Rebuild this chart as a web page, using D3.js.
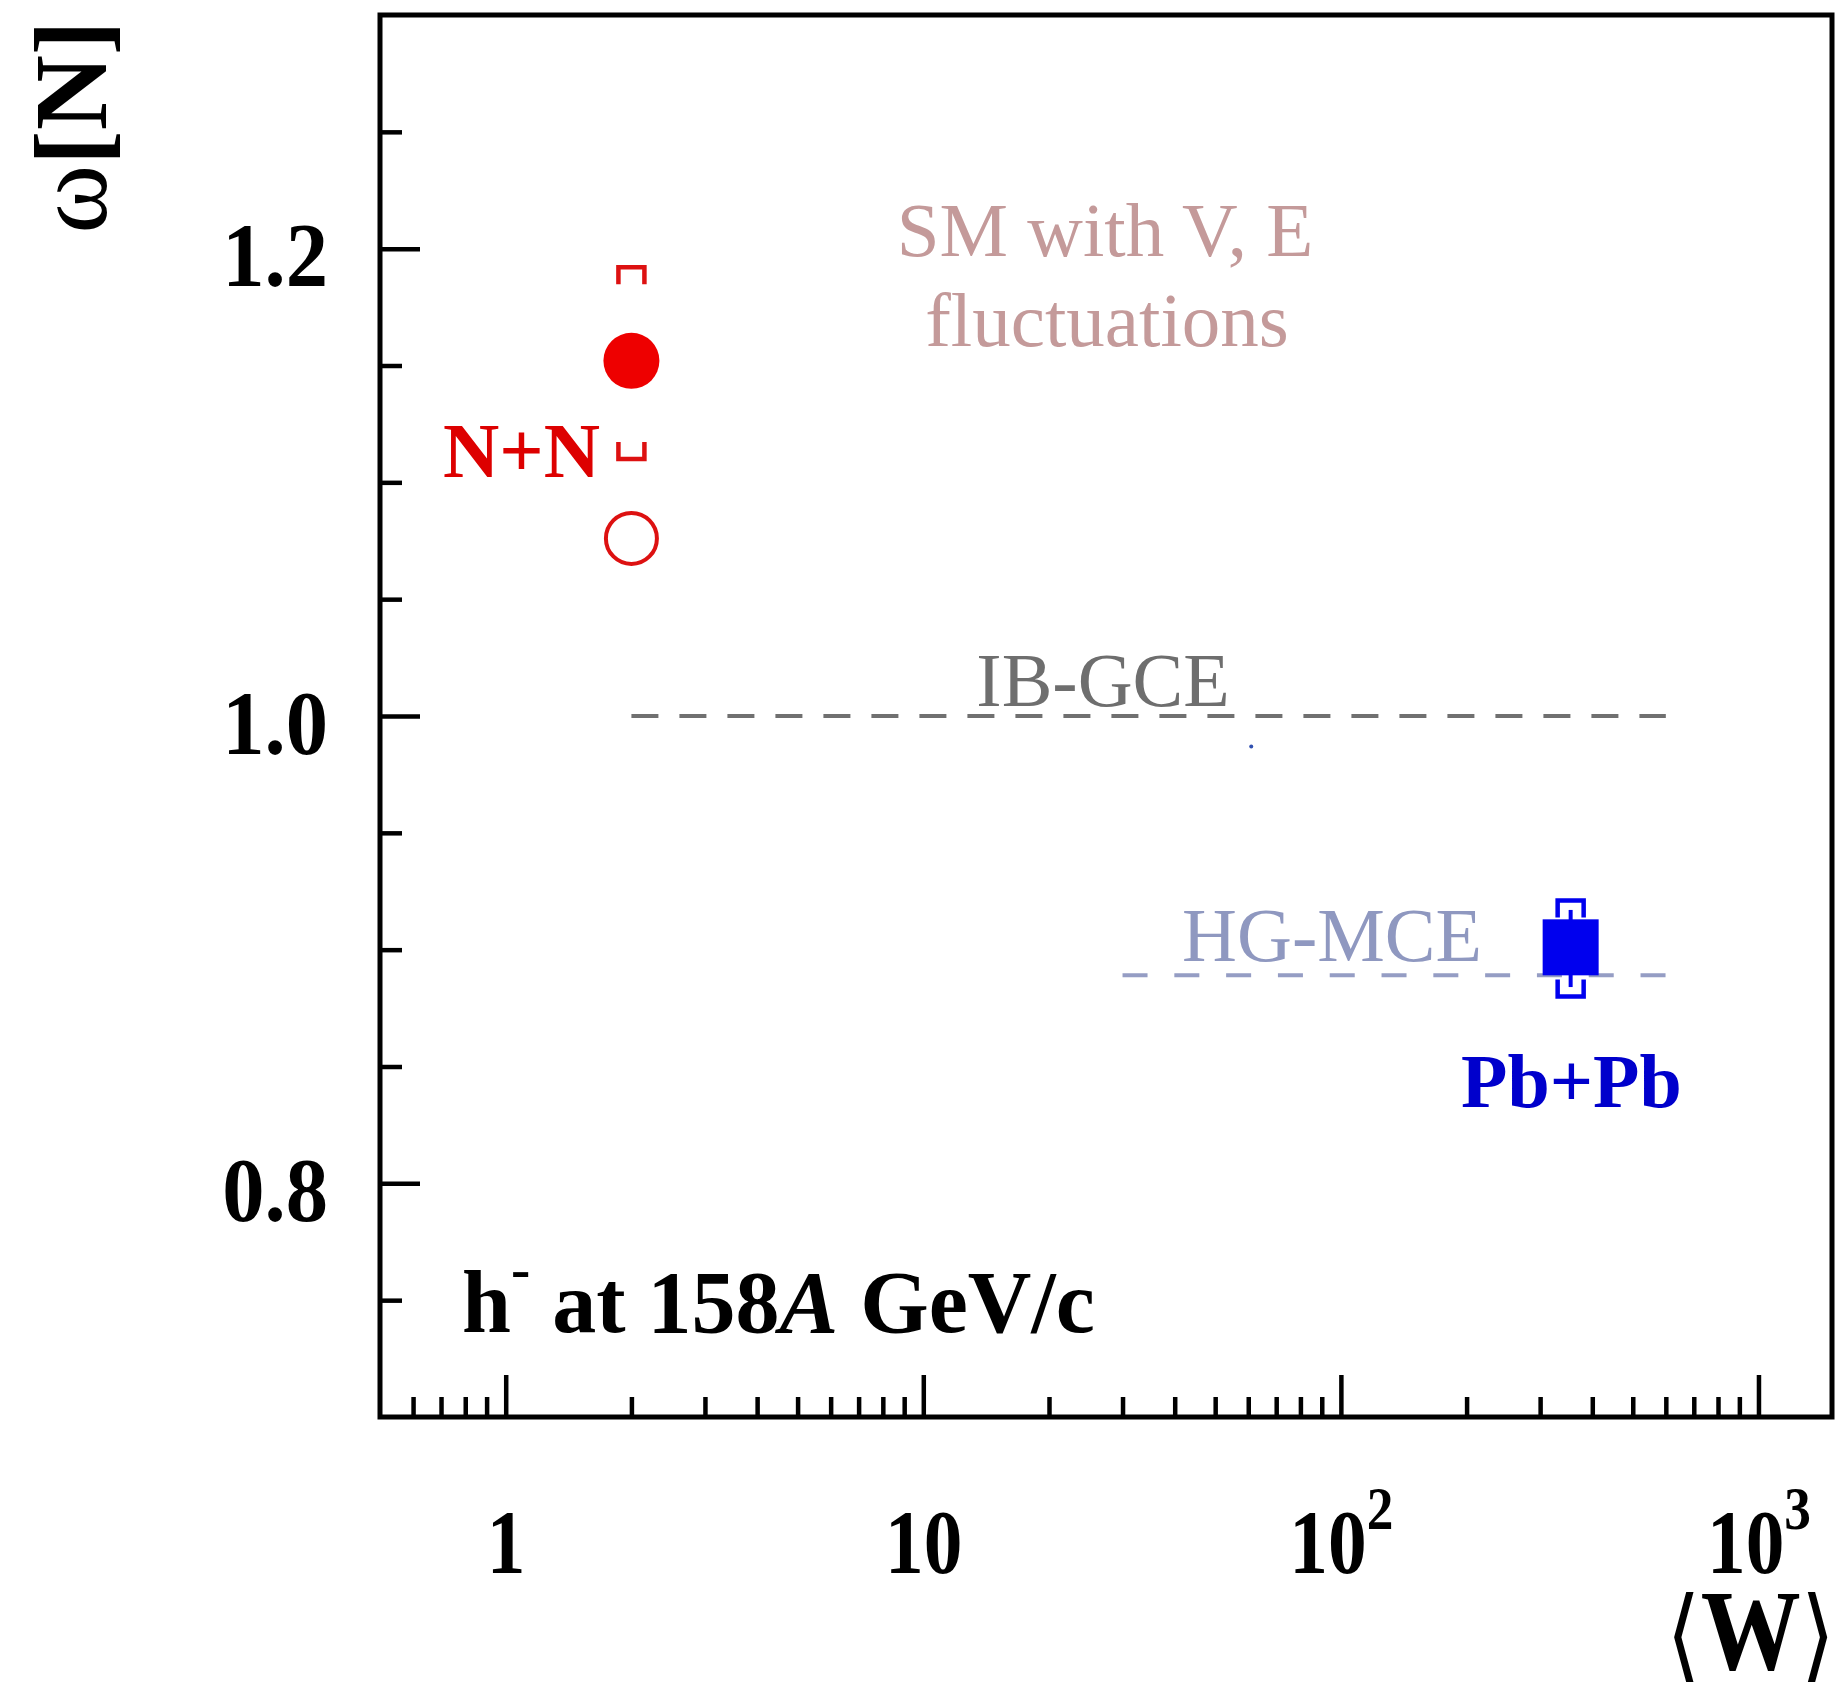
<!DOCTYPE html>
<html>
<head>
<meta charset="utf-8">
<script src="https://cdn.jsdelivr.net/npm/d3@7"></script>
<style>
  body { margin: 0; background: #fff; }
  svg { display: block; }
</style>
</head>
<body>
<svg id="drawing_region"></svg>
<script>
// values
const nnW = 2;
const nnOmega = 1.152;          // filled circle
const nnSys = [1.110, 1.192];   // brackets
const nnOpenOmega = 1.076;      // open circle

const pbW = 355;
const pbOmega = 0.901;
const pbSys = [0.880, 0.921];
const pbStat = [0.884, 0.917];

const strayW = 61, strayOmega = 0.987;   // tiny blue dot

const ibgceW = [2, 600];
const ibgceOmega = 1.0;
const hgmceW = [30, 600];
const hgmceOmega = 0.889;

const xMajor = [1, 10, 100, 1000];
const xLabelBase = ['1', '10', '10', '10'];
const xLabelExp = ['', '', '2', '3'];
const xMinor = [0.6, 0.7, 0.8, 0.9, 2, 3, 4, 5, 6, 7, 8, 9,
                20, 30, 40, 50, 60, 70, 80, 90, 200, 300, 400, 500, 600, 700, 800, 900];
const yMajor = [0.8, 1.0, 1.2];
const yMinor = [0.75, 0.85, 0.9, 0.95, 1.05, 1.1, 1.15, 1.25];

const config = {
    width: 1837,
    height: 1682,
    margin: {top: 15, right: 5, bottom: 265, left: 380}
};

const serif = '"Liberation Serif", "Times New Roman", serif';

const svg = d3.select('#drawing_region')
    .attr('width', config.width)
    .attr('height', config.height);

const inner_width = config.width - config.margin.left - config.margin.right;
const inner_height = config.height - config.margin.top - config.margin.bottom;

const chart = svg.append('g')
    .attr('transform', `translate(${config.margin.left}, ${config.margin.top})`);

const xscale = d3.scaleLog().domain([0.5, 1500]).range([0, inner_width]);
const yscale = d3.scaleLinear().domain([0.7, 1.3]).range([inner_height, 0]);

// ---- axes (ticks point inward) ----
const xminor_g = chart.append('g')
    .attr('transform', `translate(0, ${inner_height})`)
    .call(d3.axisBottom(xscale).tickValues(xMinor).tickSize(-20).tickFormat(''));
const xmajor_g = chart.append('g')
    .attr('transform', `translate(0, ${inner_height})`)
    .call(d3.axisBottom(xscale).tickValues(xMajor).tickSize(-42)
        .tickFormat((d, i) => xLabelBase[i]));
const yminor_g = chart.append('g')
    .call(d3.axisLeft(yscale).tickValues(yMinor).tickSize(-22).tickFormat(''));
const ymajor_g = chart.append('g')
    .call(d3.axisLeft(yscale).tickValues(yMajor).tickSize(-40)
        .tickFormat(d => d.toFixed(1)));

[xminor_g, xmajor_g, yminor_g, ymajor_g].forEach(g => {
    g.select('.domain').remove();
    g.selectAll('line').attr('stroke', '#000').attr('stroke-width', 4.5);
});

// the labels in the picture are narrow and tall
xmajor_g.selectAll('text')
    .attr('y', 0).attr('dy', 0)
    .attr('transform', 'translate(0, 156) scale(0.86, 1)')
    .attr('fill', '#000')
    .attr('font-family', serif)
    .attr('font-weight', 'bold')
    .attr('font-size', 90)
    .each(function(d, i) {
        if (xLabelExp[i]) {
            d3.select(this).append('tspan')
                .attr('font-size', 62)
                .attr('dy', -44)
                .text(xLabelExp[i]);
        }
    });

ymajor_g.selectAll('text')
    .attr('x', 0).attr('dy', 0)
    .attr('transform', 'translate(-52, 37) scale(0.94, 1)')
    .attr('fill', '#000')
    .attr('font-family', serif)
    .attr('font-weight', 'bold')
    .attr('font-size', 90);

// frame
chart.append('rect')
    .attr('x', 0).attr('y', 0)
    .attr('width', inner_width).attr('height', inner_height)
    .attr('fill', 'none')
    .attr('stroke', '#000')
    .attr('stroke-width', 5);

// ---- model lines ----
chart.append('line')
    .attr('x1', xscale(ibgceW[0])).attr('x2', xscale(ibgceW[1]))
    .attr('y1', yscale(ibgceOmega)).attr('y2', yscale(ibgceOmega))
    .attr('stroke', '#707070').attr('stroke-width', 4)
    .attr('stroke-dasharray', '27,21');

chart.append('line')
    .attr('x1', xscale(hgmceW[0])).attr('x2', xscale(hgmceW[1]))
    .attr('y1', yscale(hgmceOmega)).attr('y2', yscale(hgmceOmega))
    .attr('stroke', '#959dc4').attr('stroke-width', 4)
    .attr('stroke-dasharray', '25,26.8');

// bracket for systematic errors
function bracket(x, y, dir, color) {
    const px = xscale(x), py = yscale(y);
    const leg = 17 * dir, hw = 13;
    chart.append('path')
        .attr('d', `M${px - hw},${py + leg} V${py} H${px + hw} V${py + leg}`)
        .attr('fill', 'none')
        .attr('stroke', color)
        .attr('stroke-width', 4.5);
}

// ---- N+N ----
const red = '#ee0000';
bracket(nnW, nnSys[1], 1, '#dd1111');
bracket(nnW, nnSys[0], -1, '#dd1111');
chart.append('circle')
    .attr('cx', xscale(nnW)).attr('cy', yscale(nnOmega))
    .attr('r', 28).attr('fill', red);
chart.append('circle')
    .attr('cx', xscale(nnW)).attr('cy', yscale(nnOpenOmega))
    .attr('r', 25.5).attr('fill', 'none')
    .attr('stroke', '#dd1111').attr('stroke-width', 4);

// ---- Pb+Pb ----
const blue = '#0000ee';
chart.append('line')
    .attr('x1', xscale(pbW)).attr('x2', xscale(pbW))
    .attr('y1', yscale(pbStat[0])).attr('y2', yscale(pbStat[1]))
    .attr('stroke', blue).attr('stroke-width', 4);
bracket(pbW, pbSys[1], 1, blue);
bracket(pbW, pbSys[0], -1, blue);
chart.append('rect')
    .attr('x', xscale(pbW) - 28).attr('y', yscale(pbOmega) - 28)
    .attr('width', 56).attr('height', 56)
    .attr('fill', blue);

chart.append('circle')
    .attr('cx', xscale(strayW)).attr('cy', yscale(strayOmega))
    .attr('r', 2).attr('fill', '#3050b0');

// ---- annotations ----
function label(txt, x, y, opts) {
    return svg.append('text')
        .attr('x', x).attr('y', y)
        .attr('font-family', serif)
        .attr('font-size', opts.size)
        .attr('font-weight', opts.bold ? 'bold' : 'normal')
        .attr('fill', opts.color)
        .attr('text-anchor', opts.anchor || 'start')
        .text(txt);
}

label('SM with V, E', 1105, 256, {size: 77, color: '#c49a9a', anchor: 'middle'});
label('fluctuations', 1107, 346, {size: 77, color: '#c49a9a', anchor: 'middle'});
label('IB-GCE', 1103, 706, {size: 76, color: '#6e6e6e', anchor: 'middle'});
label('HG-MCE', 1332, 961, {size: 76, color: '#8f98c0', anchor: 'middle'});
label('N+N', 600, 477, {size: 78, bold: true, color: '#dd0000', anchor: 'end'});
label('Pb+Pb', 1461, 1107, {size: 76, bold: true, color: '#0000cc'});

const energy = label('h', 462, 1332, {size: 88, bold: true, color: '#000'});
energy.append('tspan').attr('font-size', 58).attr('dy', -44).text('-');
energy.append('tspan').attr('dy', 44).text(' at 158');
energy.append('tspan').attr('font-style', 'italic').text('A');
energy.append('tspan').text(' GeV/c');

// axis titles
const ytitle = svg.append('text')
    .attr('transform', 'translate(106, 127) rotate(-90)')
    .attr('text-anchor', 'middle')
    .attr('font-family', serif)
    .attr('font-size', 104)
    .attr('fill', '#000');
ytitle.append('tspan').text('ω');
ytitle.append('tspan').attr('font-weight', 'bold').text('[N]');

const xtitle = svg.append('text')
    .attr('transform', 'translate(1835, 1669) scale(1, 1.15)')
    .attr('text-anchor', 'end')
    .attr('font-family', serif)
    .attr('font-size', 100)
    .attr('fill', '#000');
xtitle.append('tspan').attr('font-family', '"DejaVu Serif", serif').attr('font-size', 88).text('⟨');
xtitle.append('tspan').attr('font-weight', 'bold').text('W');
xtitle.append('tspan').attr('font-family', '"DejaVu Serif", serif').attr('font-size', 88).text('⟩');
</script>
</body>
</html>
